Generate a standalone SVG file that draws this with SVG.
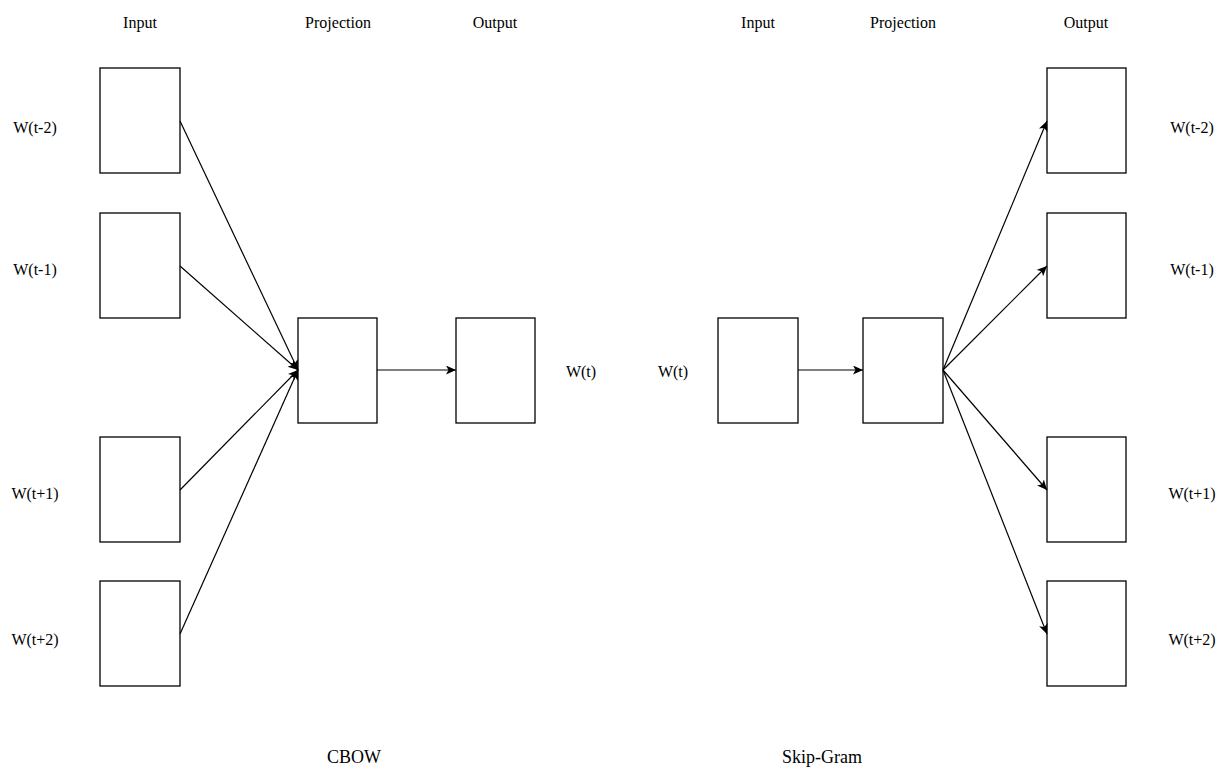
<svg xmlns="http://www.w3.org/2000/svg" width="1219" height="767" viewBox="0 0 1219 767">
<style>
.box{fill:#fff;stroke:#000;stroke-width:1.3}
.t{font-family:"Liberation Serif","Times New Roman",serif;font-size:16px;fill:#000;text-anchor:middle}
.title{font-family:"Liberation Serif","Times New Roman",serif;font-size:18px;fill:#000;text-anchor:middle}
.edge{fill:none;stroke:#000;stroke-width:1.2;marker-end:url(#arr)}
</style>
<defs>
<marker id="arr" markerUnits="userSpaceOnUse" markerWidth="12" markerHeight="10" refX="10" refY="4.5" orient="auto">
<path d="M0,0 L10,4.5 L0,9 L2.5,4.5 Z" fill="#000"/>
</marker>
</defs>
<rect width="1219" height="767" fill="#fff"/>
<g id="headers">
<text class="t" x="140" y="28">Input</text>
<text class="t" x="338" y="28">Projection</text>
<text class="t" x="495" y="28">Output</text>
<text class="t" x="758" y="28">Input</text>
<text class="t" x="903" y="28">Projection</text>
<text class="t" x="1086" y="28">Output</text>
</g>
<g id="cbow-in1"><rect class="box" x="100" y="68" width="80" height="105"/><text class="t" x="35" y="133">W(t-2)</text></g>
<g id="cbow-in2"><rect class="box" x="100" y="213" width="80" height="105"/><text class="t" x="35" y="275">W(t-1)</text></g>
<g id="cbow-in3"><rect class="box" x="100" y="437" width="80" height="105"/><text class="t" x="35" y="499">W(t+1)</text></g>
<g id="cbow-in4"><rect class="box" x="100" y="581" width="80" height="105"/><text class="t" x="35" y="645">W(t+2)</text></g>
<g id="cbow-proj"><rect class="box" x="298" y="318" width="79" height="105"/></g>
<g id="cbow-out"><rect class="box" x="456" y="318" width="79" height="105"/><text class="t" x="581" y="377">W(t)</text></g>
<g id="sg-in"><rect class="box" x="718" y="318" width="80" height="105"/><text class="t" x="673" y="377">W(t)</text></g>
<g id="sg-proj"><rect class="box" x="863" y="318" width="80" height="105"/></g>
<g id="sg-out1"><rect class="box" x="1047" y="68" width="79" height="105"/><text class="t" x="1192" y="133">W(t-2)</text></g>
<g id="sg-out2"><rect class="box" x="1047" y="213" width="79" height="105"/><text class="t" x="1192" y="275">W(t-1)</text></g>
<g id="sg-out3"><rect class="box" x="1047" y="437" width="79" height="105"/><text class="t" x="1192" y="499">W(t+1)</text></g>
<g id="sg-out4"><rect class="box" x="1047" y="581" width="79" height="105"/><text class="t" x="1192" y="645">W(t+2)</text></g>
<g id="titles">
<text class="title" x="354" y="763">CBOW</text>
<text class="title" x="822" y="763">Skip-Gram</text>
</g>
<g id="connectors">
<line class="edge" x1="180" y1="121" x2="298" y2="370"/>
<line class="edge" x1="180" y1="266" x2="298" y2="370"/>
<line class="edge" x1="180" y1="490" x2="298" y2="370"/>
<line class="edge" x1="180" y1="634" x2="298" y2="370"/>
<line class="edge" x1="377" y1="370" x2="456" y2="370"/>
<line class="edge" x1="798" y1="370" x2="863" y2="370"/>
<line class="edge" x1="943" y1="370" x2="1047" y2="121"/>
<line class="edge" x1="943" y1="370" x2="1047" y2="266"/>
<line class="edge" x1="943" y1="370" x2="1047" y2="490"/>
<line class="edge" x1="943" y1="370" x2="1047" y2="634"/>
</g>
</svg>
